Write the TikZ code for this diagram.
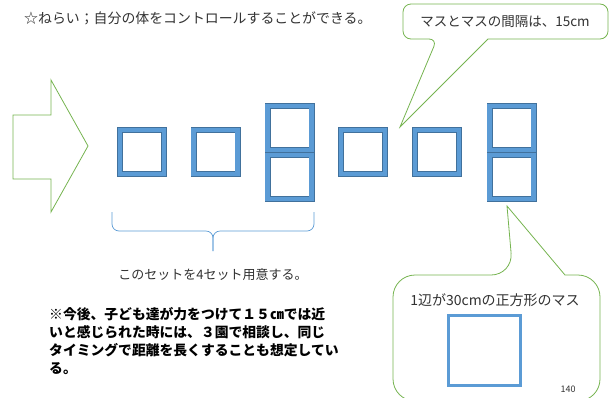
\documentclass[tikz,border=0pt]{standalone}
\usepackage{fontspec}
\setmainfont{Noto Sans CJK JP}
\usepackage{tikz}
\usetikzlibrary{positioning}
\definecolor{masublue}{RGB}{91,155,213}
\definecolor{masuedge}{RGB}{65,113,156}
\definecolor{leafgreen}{RGB}{118,180,80}
\definecolor{inkgray}{RGB}{50,50,50}

\begin{document}
\begin{tikzpicture}[x=1pt,y=-1pt,
    masu/.style={draw=masuedge,line width=0.6pt,double=masublue,double distance=4.8pt,
      fill=white,minimum size=44pt,inner sep=0pt,outer sep=0pt},
    masuthin/.style={draw=masuedge,line width=0.5pt,double=masublue,double distance=2.2pt,
      fill=white,minimum width=72pt,minimum height=70pt,inner sep=0pt},
    greenline/.style={draw=leafgreen,line width=0.8pt,fill=white,line join=miter},
    label/.style={text=inkgray,inner sep=0pt,font=\fontsize{13.5}{16}\selectfont}]
  \path[use as bounding box,clip] (0,0) rectangle (612,397);

  % aim of the play
  \node[label,anchor=west,font=\fontsize{13.9}{16}\selectfont] (aim) at (24,18) {☆ねらい；自分の体をコントロールすることができる。};

  % big arrow on the left
  \draw[greenline] (13,115) -- (51,115) -- (51,80) -- (88,146) -- (51,212) -- (51,179) -- (13,179) -- cycle;

  % first set of squares
  \node[masu] (m1) at (142,152) {};
  \node[masu] (m2) at (215.5,152) {};
  \node[masu] (t1) at (289.5,128) {};
  \node[masu,below=5pt of t1] (b1) {};

  % second set of squares
  \node[masu] (m3) at (363,152) {};
  \node[masu] (m4) at (437,152) {};
  \node[masu] (t2) at (511.5,128) {};
  \node[masu,below=5pt of t2] (b2) {};

  % brace under the first set
  \draw[masublue,line width=0.7pt,rounded corners=7pt] (112,212) -- (112,231) -- (213,231) -- (213,251);
  \draw[masublue,line width=0.7pt,rounded corners=7pt] (314,212) -- (314,231) -- (213,231) -- (213,251);
  \node[label,font=\fontsize{13}{16}\selectfont] (sets) at (213,275) {このセットを4セット用意する。};

  % note
  \node[anchor=north west,align=left,inner sep=0pt,font=\bfseries\fontsize{13.8}{18}\selectfont] (note) at (49,307)
    {※今後、子ども達が力をつけて１５㎝では近\\いと感じられた時には、３園で相談し、同じ\\タイミングで距離を長くすることも想定してい\\る。};

  % callout: gap between squares
  \coordinate (gaptip) at (400,127);
  \draw[greenline] (gaptip) -- (488,39) [rounded corners=8pt] -- (608,39) -- (608,4) -- (403,4) -- (403,39) -- (437,39) [sharp corners] -- cycle;
  \node[label] (gap) at (505,22) {マスとマスの間隔は、15cm};

  % callout: size of one square
  \coordinate (sizetip) at (507,206);
  \draw[greenline] (sizetip) -- (565,275) [rounded corners=22pt] -- (600,275) -- (600,401) -- (393,401) -- (393,275) -- (513,275) [sharp corners] -- cycle;
  \node[label,font=\fontsize{14}{16}\selectfont] (size) at (495,300) {1辺が30cmの正方形のマス};
  \node[masuthin] (big) at (484.5,350.5) {};
  \node[label,font=\fontsize{9}{10}\selectfont] (page) at (568,389) {140};
\end{tikzpicture}
\end{document}
